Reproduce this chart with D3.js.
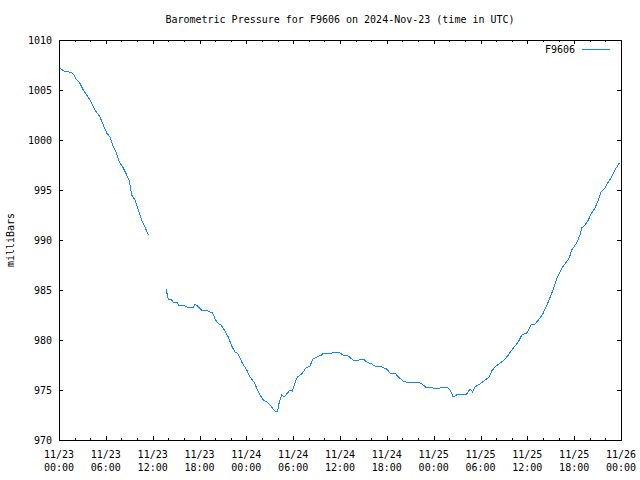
<!DOCTYPE html>
<html><head><meta charset="utf-8">
<script src="https://cdn.jsdelivr.net/npm/d3@7"></script>
<style>
html,body{margin:0;padding:0;background:#fff;}
svg text{font-family:"DejaVu Sans Mono",monospace;font-size:10px;fill:#000;letter-spacing:0px;}
</style></head><body>
<svg id="chart" width="640" height="480"></svg>
<script>
// Hours since 2024-11-23 00:00 UTC, and pressure (mb); null = gap in data
const hours = [0.13,0.77,0.99,1.63,1.83,2.27,2.60,3.11,3.55,3.97,4.61,5.25,5.68,6.11,6.53,6.88,7.30,7.72,8.24,8.67,9.01,9.31,9.74,10.16,10.59,11.02,11.44,
12.5,
13.71,14.00,14.44,14.73,15.08,15.41,15.92,16.44,17.21,17.46,17.85,18.28,18.92,19.34,19.69,19.99,20.33,20.75,21.27,21.69,22.12,22.55,22.97,23.41,24.05,24.47,24.98,25.33,25.75,26.17,26.61,27.03,27.45,27.80,28.02,28.22,28.53,28.82,29.17,29.59,29.89,30.23,30.53,31.09,31.64,32.16,32.50,33.01,33.65,33.86,34.94,35.49,36.00,36.42,37.06,37.50,37.92,38.98,39.42,40.06,40.48,41.34,41.98,42.40,43.05,43.47,44.11,44.75,45.39,45.82,46.25,46.67,47.11,47.53,47.95,48.81,49.67,50.09,50.51,51.15,51.80,52.23,52.65,53.00,53.29,53.93,54.57,55.13,55.43,55.86,56.50,56.92,57.56,58.20,58.84,59.28,59.92,60.56,60.98,61.62,62.04,62.68,63.29,63.80,64.44,65.37,65.68,66.32,66.75,66.96,67.39,67.81,68.24,68.67,69.09,69.44,69.95,70.37,70.81,71.23,71.78];
const pressure = [1007.2,1006.8,1006.9,1006.7,1006.6,1006.0,1005.8,1005.0,1004.5,1004.0,1003.0,1002.3,1001.5,1000.7,1000.3,999.5,998.8,997.8,997.2,996.5,995.9,994.5,994.0,993.0,992.0,991.3,990.5,
null,
985.1,984.1,984.0,983.7,983.8,983.4,983.5,983.3,983.3,983.6,983.3,983.0,983.0,982.8,982.7,982.1,981.7,981.5,980.9,980.3,979.4,978.8,978.6,977.8,977.0,976.3,975.8,975.2,974.5,974.0,973.8,973.5,973.1,972.8,972.9,973.8,974.5,974.3,974.6,975.0,974.9,975.7,976.3,976.6,977.2,977.4,978.1,978.3,978.5,978.7,978.7,978.8,978.7,978.5,978.4,978.1,977.9,978.1,977.8,977.6,977.4,977.3,977.1,976.7,976.7,976.3,975.9,975.7,975.8,975.8,975.7,975.5,975.2,975.3,975.2,975.2,975.3,975.0,974.3,974.6,974.5,974.6,975.1,974.8,975.3,975.6,976.0,976.3,976.9,977.3,977.7,977.9,978.5,979.2,979.8,980.5,980.7,981.6,981.6,982.2,982.7,983.8,985.0,986.2,987.2,988.2,989.0,989.7,990.5,991.2,991.5,992.0,992.7,993.2,994.0,994.8,995.2,995.8,996.3,997.0,997.7];
const yTicks = [970,975,980,985,990,995,1000,1005,1010];
const xTickHours = [0,6,12,18,24,30,36,42,48,54,60,66,72];
const minorStepHours = 2;
const titleText = "Barometric Pressure for F9606 on 2024-Nov-23 (time in UTC)";
const yLabelText = "milliBars";
const seriesName = "F9606";

const start = Date.UTC(2024,10,23,0,0);
const toDate = h => new Date(start + h*3600000);
const data = hours.map((h,i)=>({t:toDate(h), v:pressure[i]}));

const L=59, R=621, T=40, B=440;
const svg = d3.select("#chart");
const x = d3.scaleUtc().domain([toDate(0), toDate(72)]).range([L,R]);
const y = d3.scaleLinear().domain([970,1010]).range([B,T]);
const fmt1 = d3.utcFormat("%m/%d"), fmt2 = d3.utcFormat("%H:%M");
const color = "#1487ff";

const g = svg.append("g").attr("shape-rendering","crispEdges");
// minor ticks
const minorH = d3.range(0,72.001,minorStepHours).filter(h=>h%6!==0);
g.selectAll(".mnb").data(minorH).join("line")
  .attr("x1",d=>Math.round(x(toDate(d)))+0.5).attr("x2",d=>Math.round(x(toDate(d)))+0.5)
  .attr("y1",B).attr("y2",B-2).attr("stroke","#000");
g.selectAll(".mnt").data(minorH).join("line")
  .attr("x1",d=>Math.round(x(toDate(d)))+0.5).attr("x2",d=>Math.round(x(toDate(d)))+0.5)
  .attr("y1",T).attr("y2",T+2).attr("stroke","#000");
// major x ticks
g.selectAll(".mjb").data(xTickHours).join("line")
  .attr("x1",d=>Math.round(x(toDate(d)))+0.5).attr("x2",d=>Math.round(x(toDate(d)))+0.5)
  .attr("y1",B).attr("y2",B-4).attr("stroke","#000");
g.selectAll(".mjt").data(xTickHours).join("line")
  .attr("x1",d=>Math.round(x(toDate(d)))+0.5).attr("x2",d=>Math.round(x(toDate(d)))+0.5)
  .attr("y1",T).attr("y2",T+4).attr("stroke","#000");
// y ticks
g.selectAll(".yl").data(yTicks).join("line")
  .attr("x1",L).attr("x2",L+4).attr("y1",d=>Math.round(y(d))+0.5).attr("y2",d=>Math.round(y(d))+0.5).attr("stroke","#000");
g.selectAll(".yr").data(yTicks).join("line")
  .attr("x1",R-4).attr("x2",R).attr("y1",d=>Math.round(y(d))+0.5).attr("y2",d=>Math.round(y(d))+0.5).attr("stroke","#000");

// frame
g.append("rect").attr("x",L+0.5).attr("y",T+0.5).attr("width",R-L).attr("height",B-T)
  .attr("fill","none").attr("stroke","#000");

// y labels
svg.selectAll(".ytl").data(yTicks).join("text")
  .attr("x",L-7).attr("y",d=>y(d)+4).attr("text-anchor","end").text(d=>d);
// x labels
const xl = svg.selectAll(".xtl").data(xTickHours).join("text")
  .attr("text-anchor","middle");
xl.append("tspan").attr("x",d=>x(toDate(d))).attr("y",B+18).text(d=>fmt1(toDate(d)));
xl.append("tspan").attr("x",d=>x(toDate(d))).attr("y",B+31).text(d=>fmt2(toDate(d)));

// title
svg.append("text").attr("x",(L+R)/2).attr("y",23).attr("text-anchor","middle").text(titleText);
// y label
svg.append("text").attr("transform",`translate(14,${(T+B)/2}) rotate(-90)`).attr("text-anchor","middle").text(yLabelText);

// line
const line = d3.line().defined(d=>d.v!==null).x(d=>x(d.t)).y(d=>y(d.v));
svg.append("path").datum(data).attr("d",line).attr("fill","none")
  .attr("stroke",color).attr("stroke-width",1).attr("shape-rendering","crispEdges");

// legend
svg.append("text").attr("x",575).attr("y",53).attr("text-anchor","end").text(seriesName);
svg.append("line").attr("x1",582).attr("x2",610).attr("y1",49.5).attr("y2",49.5)
  .attr("stroke",color).attr("shape-rendering","crispEdges");
</script>
</body></html>
